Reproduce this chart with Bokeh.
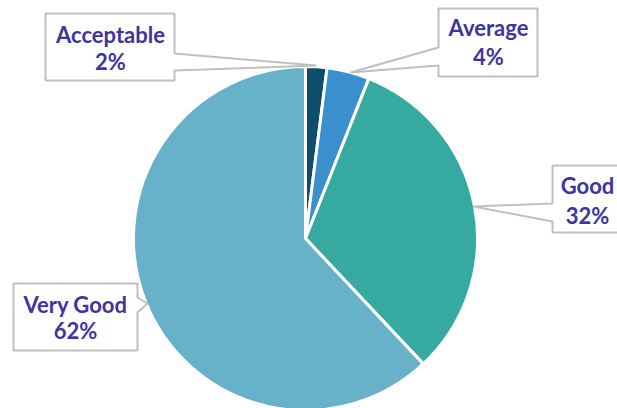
import numpy as np
from bokeh.plotting import figure
from bokeh.models import Range1d, ColumnDataSource
from bokeh.core.properties import value
from bokeh.embed import file_html
from bokeh.resources import INLINE

# ---- data ----
categories = ["Acceptable", "Average", "Good", "Very Good"]
percents = [2, 4, 32, 62]
colors = ["#0f4d6d", "#3a8fcd", "#36aaa1", "#67b2c9"]

# ---- layout (page pixel coordinates) ----
W, H = 617, 408
CX, CY, R = 305, 238, 172
TEXT_COLOR = "#3d34a3"
FONT = "Lato"
FONT_SIZE = "22px"
TEXT_SHIFT = 8

callouts = [
    dict(l=45, r=174, t=13, b=80, side="right", a=53, c=70, tip=(316, 65), cx=110, y1=42, y2=69),
    dict(l=438, r=537, t=8, b=76, side="left", a=47, c=65, tip=(350, 72), cx=488, y1=35, y2=64),
    dict(l=552, r=622, t=165, b=232, side="left", a=203, c=221, tip=(473, 206), cx=587, y1=193, y2=223),
    dict(l=13, r=137, t=283, b=350, side="right", a=297, c=312, tip=(147, 303), cx=75, y1=312, y2=338),
]

p = figure(width=W, height=H, output_backend="svg", toolbar_location=None,
           x_range=Range1d(0, W), y_range=Range1d(-H, 0),
           x_axis_type=None, y_axis_type=None, min_border=0)
p.outline_line_color = None
p.grid.visible = False
p.background_fill_color = "white"
p.border_fill_color = "white"

frac = np.array(percents, dtype=float) / sum(percents)
cum = np.concatenate([[0], np.cumsum(frac)])
start = np.pi / 2 - 2 * np.pi * cum[:-1]
end = np.pi / 2 - 2 * np.pi * cum[1:]
src = ColumnDataSource(dict(x=[CX] * 4, y=[-CY] * 4, start=start, end=end, color=colors))
p.wedge(x="x", y="y", radius=R, start_angle="start", end_angle="end", direction="clock",
        fill_color="color", line_color="white", line_width=3, source=src)

for cat, pct, c in zip(categories, percents, callouts):
    l, r, t, b = c["l"], c["r"], c["t"], c["b"]
    tx, ty = c["tip"]
    if c["side"] == "right":
        pts = [(l, t), (r, t), (r, c["a"]), (tx, ty), (r, c["c"]), (r, b), (l, b)]
    else:
        pts = [(l, t), (r, t), (r, b), (l, b), (l, c["c"]), (tx, ty), (l, c["a"])]
    xs = [q[0] for q in pts]
    ys = [-q[1] for q in pts]
    p.patch(xs, ys, fill_color="white", line_color="#bfbfbf", line_width=2)
    p.text(x=[c["cx"]], y=[-(c["y1"] - TEXT_SHIFT)], text=[cat], text_align="center",
           text_baseline="alphabetic", text_font=value(FONT), text_font_style="bold",
           text_font_size=FONT_SIZE, text_color=TEXT_COLOR)
    p.text(x=[c["cx"]], y=[-(c["y2"] - TEXT_SHIFT)], text=[f"{pct}%"], text_align="center",
           text_baseline="alphabetic", text_font=value(FONT), text_font_style="bold",
           text_font_size=FONT_SIZE, text_color=TEXT_COLOR)

open("out.html", "w").write(file_html(p, INLINE))
